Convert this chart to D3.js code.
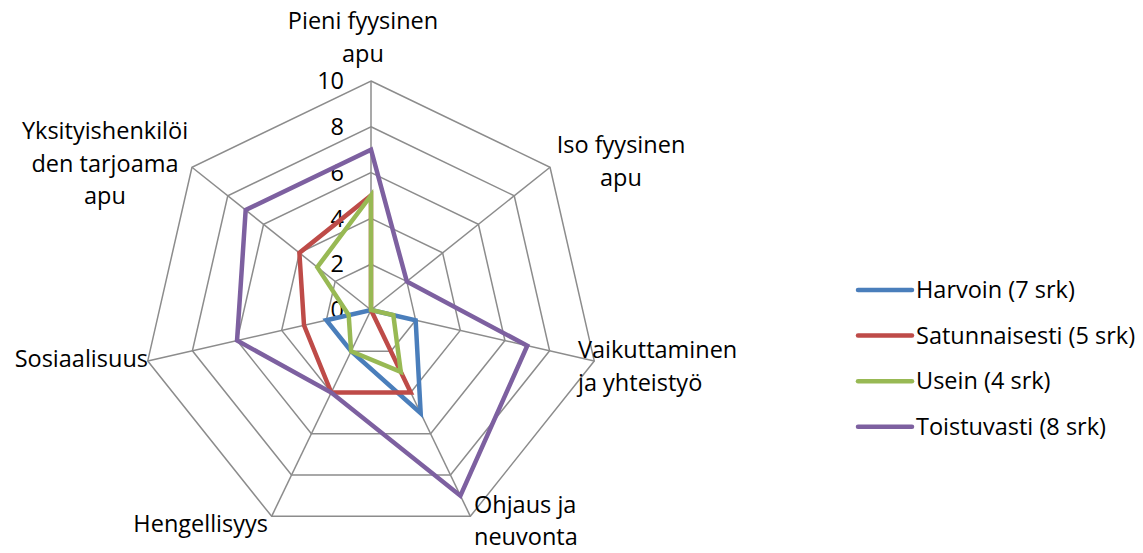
<!DOCTYPE html>
<html>
<head>
<meta charset="utf-8">
<script src="https://cdn.jsdelivr.net/npm/d3@7"></script>
<style>
  body { margin: 0; background: #fff; }
  #chart { width: 1143px; height: 553px; }
  text { font-family: "Open Sans", "Noto Sans", sans-serif; font-size: 23.5px; fill: #000; }
</style>
</head>
<body>
<div id="chart"></div>
<script>
/* DATA */
const axes = [
  ["Pieni fyysinen", "apu"],
  ["Iso fyysinen", "apu"],
  ["Vaikuttaminen", "ja yhteistyö"],
  ["Ohjaus ja", "neuvonta"],
  ["Hengellisyys"],
  ["Sosiaalisuus"],
  ["Yksityishenkilöi", "den tarjoama", "apu"]
];
const seriesNames = ["Harvoin (7 srk)", "Satunnaisesti (5 srk)", "Usein (4 srk)", "Toistuvasti (8 srk)"];
const harvoin = [0, 0, 2, 5, 2, 2, 0];
const satunnaisesti = [5, 0, 0, 4, 4, 3, 4];
const usein = [5, 0, 1, 3, 2, 1, 3];
const toistuvasti = [7, 2, 7, 9, 4, 6, 7];
const ticks = [0, 2, 4, 6, 8, 10];

const colors = ["#4A7EBB", "#BE4B48", "#98B954", "#7D60A0"];
const allSeries = [harvoin, satunnaisesti, usein, toistuvasti];

/* CANVAS */
const width = 1143, height = 553;
const cx = 371, cy = 310, radius = 229;

const svg = d3.select("#chart").append("svg")
  .attr("width", width).attr("height", height);

const rScale = d3.scaleLinear().domain([0, 10]).range([0, radius]);
const n = axes.length;
const angle = i => i * 2 * Math.PI / n;
const pt = (i, v) => [cx + rScale(v) * Math.sin(angle(i)), cy - rScale(v) * Math.cos(angle(i))];

/* GRID */
const grid = svg.append("g").attr("stroke", "#8c8c8c").attr("stroke-width", 1.5).attr("fill", "none");
ticks.filter(t => t > 0).forEach(t => {
  grid.append("path")
    .attr("d", d3.line()(d3.range(n).map(i => pt(i, t))) + "Z");
});
d3.range(n).forEach(i => {
  grid.append("path").attr("d", d3.line()([pt(i, 0), pt(i, 10)]));
});

/* TICK LABELS */
svg.append("g").selectAll("text")
  .data(ticks).enter().append("text")
  .attr("x", cx - 27)
  .attr("y", d => cy - rScale(d))
  .attr("dy", "0.35em")
  .attr("text-anchor", "end")
  .text(d => d);

/* SERIES */
const line = d3.line().x(d => d[0]).y(d => d[1]);
allSeries.forEach((s, k) => {
  svg.append("path")
    .attr("d", line(s.map((v, i) => pt(i, v))) + "Z")
    .attr("fill", "none")
    .attr("stroke", colors[k])
    .attr("stroke-width", 4.5)
    .attr("stroke-linejoin", "miter");
});

/* AXIS LABELS */
const labelPos = [
  {x: 363, y: 21, anchor: "middle", gap: 32.5},
  {x: 621, y: 145, anchor: "middle", gap: 32.5},
  {x: 578, y: 350, anchor: "start", gap: 32.5},
  {x: 474, y: 505, anchor: "start", gap: 32},
  {x: 268, y: 524, anchor: "end", gap: 32.5},
  {x: 148, y: 359, anchor: "end", gap: 32.5},
  {x: 105, y: 131, anchor: "middle", gap: 32.5}
];
axes.forEach((lines, i) => {
  const t = svg.append("text")
    .attr("text-anchor", labelPos[i].anchor)
    .attr("y", labelPos[i].y);
  lines.forEach((l, j) => {
    t.append("tspan").attr("x", labelPos[i].x).attr("dy", j === 0 ? "0.35em" : labelPos[i].gap).text(l);
  });
});

/* LEGEND */
const legend = svg.append("g").attr("transform", "translate(858,290)");
seriesNames.forEach((name, k) => {
  const g = legend.append("g").attr("transform", `translate(0,${k * 45.6})`);
  g.append("line").attr("x1", 0).attr("x2", 54).attr("y1", 0).attr("y2", 0)
    .attr("stroke", colors[k]).attr("stroke-width", 4.5).attr("stroke-linecap", "round");
  g.append("text").attr("x", 58).attr("y", 0).attr("dy", "0.35em").text(name);
});
</script>
</body>
</html>
